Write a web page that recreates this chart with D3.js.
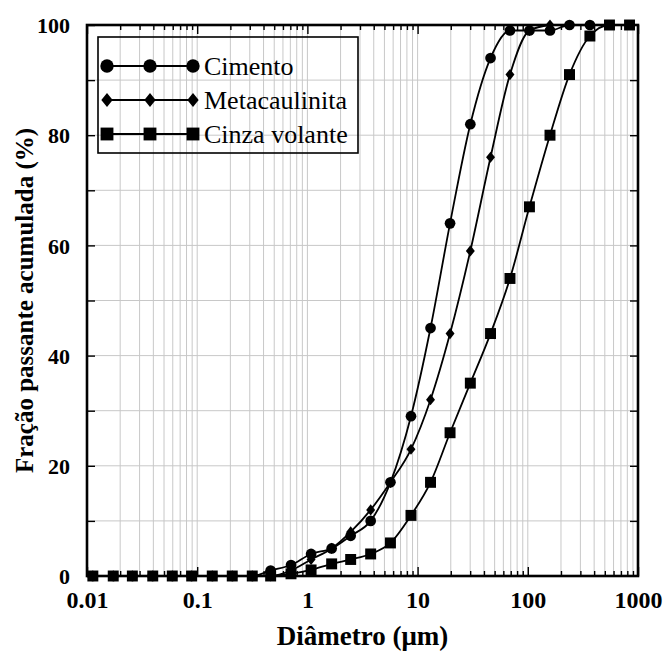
<!DOCTYPE html>
<html>
<head>
<meta charset="utf-8">
<script src="https://cdn.jsdelivr.net/npm/d3@7"></script>
<style>
  html, body { margin: 0; padding: 0; background: #fff; }
  svg { display: block; }
</style>
</head>
<body>
<svg id="chart" width="665" height="653"></svg>
<script>
// ---------- data ----------
const diameters = [0.0113, 0.0173, 0.0258, 0.0395, 0.0594, 0.0891, 0.137, 0.208, 0.316, 0.464,
                   0.71, 1.08, 1.66, 2.47, 3.75, 5.67, 8.71, 13.1, 19.7, 30.1, 45.9, 68.9,
                   103.5, 159, 239, 366, 551, 838];
const cimento =       [0,0,0,0,0,0,0,0,0, 1, 2, 4, 5, 7.3, 10, 17, 29, 45, 64, 82, 94, 99, 99, 99, 100, 100];
const metacaulinita = [0,0,0,0,0,0,0,0,0, 0, 1, 3, 5, 8, 12, 17, 23, 32, 44, 59, 76, 91, 99, 100];
const cinzaVolante =  [0,0,0,0,0,0,0,0,0, 0, 0.4, 1.1, 2.2, 3, 4, 6, 11, 17, 26, 35, 44, 54, 67, 80, 91, 98, 100, 100];
const seriesNames = ["Cimento", "Metacaulinita", "Cinza volante"];
const xTickValues = [0.01, 0.1, 1, 10, 100, 1000];
const xTickLabels = ["0.01", "0.1", "1", "10", "100", "1000"];
const yTickValues = [0, 20, 40, 60, 80, 100];
const xTitle = "Diâmetro (μm)";
const yTitle = "Fração passante acumulada (%)";

// ---------- layout ----------
const svg = d3.select("#chart");
const L = 87, R = 638, T = 25, B = 576;
const x = d3.scaleLog().domain([0.01, 1000]).range([L, R]);
const y = d3.scaleLinear().domain([0, 100]).range([B, T]);
const serif = "'Liberation Serif', 'Times New Roman', serif";

// minor log values
const minors = [];
for (let e = -2; e < 3; e++) for (let m = 2; m <= 9; m++) minors.push(m * Math.pow(10, e));
const yMinor = d3.range(10, 100, 10);

// grid
const grid = svg.append("g").attr("stroke", "#c8c8c8").attr("stroke-width", 1);
grid.selectAll("line.vx").data(minors.concat(xTickValues.slice(1, -1))).enter().append("line")
  .attr("x1", d => x(d)).attr("x2", d => x(d)).attr("y1", T).attr("y2", B);
grid.selectAll("line.hy").data(yMinor).enter().append("line")
  .attr("x1", L).attr("x2", R).attr("y1", d => y(d)).attr("y2", d => y(d));

// axes with inner ticks
const axBottom = d3.axisBottom(x).tickValues(xTickValues).tickSize(-9).tickFormat((d, i) => xTickLabels[i]).tickPadding(15);
const gB = svg.append("g").attr("transform", `translate(0,${B})`).call(axBottom);
const gBm = svg.append("g").attr("transform", `translate(0,${B})`).call(d3.axisBottom(x).tickValues(minors).tickSize(-5).tickFormat(""));
const gT = svg.append("g").attr("transform", `translate(0,${T})`).call(d3.axisTop(x).tickValues(xTickValues).tickSize(-9).tickFormat(""));
const gTm = svg.append("g").attr("transform", `translate(0,${T})`).call(d3.axisTop(x).tickValues(minors).tickSize(-5).tickFormat(""));
const gL = svg.append("g").attr("transform", `translate(${L},0)`).call(d3.axisLeft(y).tickValues(yTickValues).tickSize(-8).tickPadding(17));
const gLm = svg.append("g").attr("transform", `translate(${L},0)`).call(d3.axisLeft(y).tickValues(yMinor.filter(v => v % 20)).tickSize(-8).tickFormat(""));
const gR = svg.append("g").attr("transform", `translate(${R},0)`).call(d3.axisRight(y).tickValues(yMinor).tickSize(-8).tickFormat(""));
[gB, gBm, gT, gTm, gL, gLm, gR].forEach(g => {
  g.select(".domain").remove();
  g.selectAll(".tick line").attr("stroke", "#000").attr("stroke-width", 1.4);
  g.selectAll("text").attr("font-family", serif).attr("font-weight", "bold").attr("font-size", 22).attr("fill", "#000");
});
gB.selectAll("text").attr("font-size", 24);
gL.selectAll("text").attr("dy", "0.35em");

// frame
svg.append("rect").attr("x", L).attr("y", T).attr("width", R - L).attr("height", B - T)
  .attr("fill", "none").attr("stroke", "#000").attr("stroke-width", 2.6);

// custom diamond (taller than wide)
const diamond = {
  draw(ctx, size) {
    const hh = Math.sqrt(size / 1.6), hw = 0.8 * hh;
    ctx.moveTo(0, -hh); ctx.lineTo(hw, 0); ctx.lineTo(0, hh); ctx.lineTo(-hw, 0); ctx.closePath();
  }
};

// series
const allY = [cimento, metacaulinita, cinzaVolante];
const line = d3.line().x(d => x(d[0])).y(d => y(d[1])).curve(d3.curveMonotoneX);
const shapes = [d3.symbolCircle, diamond, d3.symbolSquare];
const sizes = [90, 50, 120];
const legendSizes = [140, 80, 165];
const plot = svg.append("g");
allY.forEach((vals, i) => {
  const pts = vals.map((v, j) => [diameters[j], v]);
  plot.append("path").datum(pts).attr("d", line).attr("fill", "none").attr("stroke", "#000").attr("stroke-width", 1.8);
});
allY.forEach((vals, i) => {
  const pts = vals.map((v, j) => [diameters[j], v]);
  plot.selectAll(null).data(pts).enter().append("path")
    .attr("d", d3.symbol().type(shapes[i]).size(sizes[i]))
    .attr("transform", d => `translate(${x(d[0])},${y(d[1])})`)
    .attr("fill", "#000");
});

// legend (transparent box)
const lg = svg.append("g");
lg.append("rect").attr("x", 98).attr("y", 37).attr("width", 260).attr("height", 116)
  .attr("fill", "none").attr("stroke", "#000").attr("stroke-width", 1.6);
const ly = [66, 100, 134];
seriesNames.forEach((name, i) => {
  lg.append("line").attr("x1", 107).attr("x2", 193).attr("y1", ly[i]).attr("y2", ly[i]).attr("stroke", "#000").attr("stroke-width", 1.8);
  [107, 150, 193].forEach(cx => {
    lg.append("path").attr("d", d3.symbol().type(shapes[i]).size(legendSizes[i])).attr("transform", `translate(${cx},${ly[i]})`).attr("fill", "#000");
  });
  lg.append("text").attr("x", 204).attr("y", ly[i]).attr("dy", "0.35em")
    .attr("font-family", serif).attr("font-size", 26).attr("fill", "#000").text(name);
});

// titles
svg.append("text").attr("x", (L + R) / 2).attr("y", 645).attr("text-anchor", "middle")
  .attr("font-family", serif).attr("font-weight", "bold").attr("font-size", 27).text(xTitle);
svg.append("text").attr("transform", `translate(33,${(T + B) / 2}) rotate(-90)`).attr("text-anchor", "middle")
  .attr("font-family", serif).attr("font-weight", "bold").attr("font-size", 25).text(yTitle);
</script>
</body>
</html>
